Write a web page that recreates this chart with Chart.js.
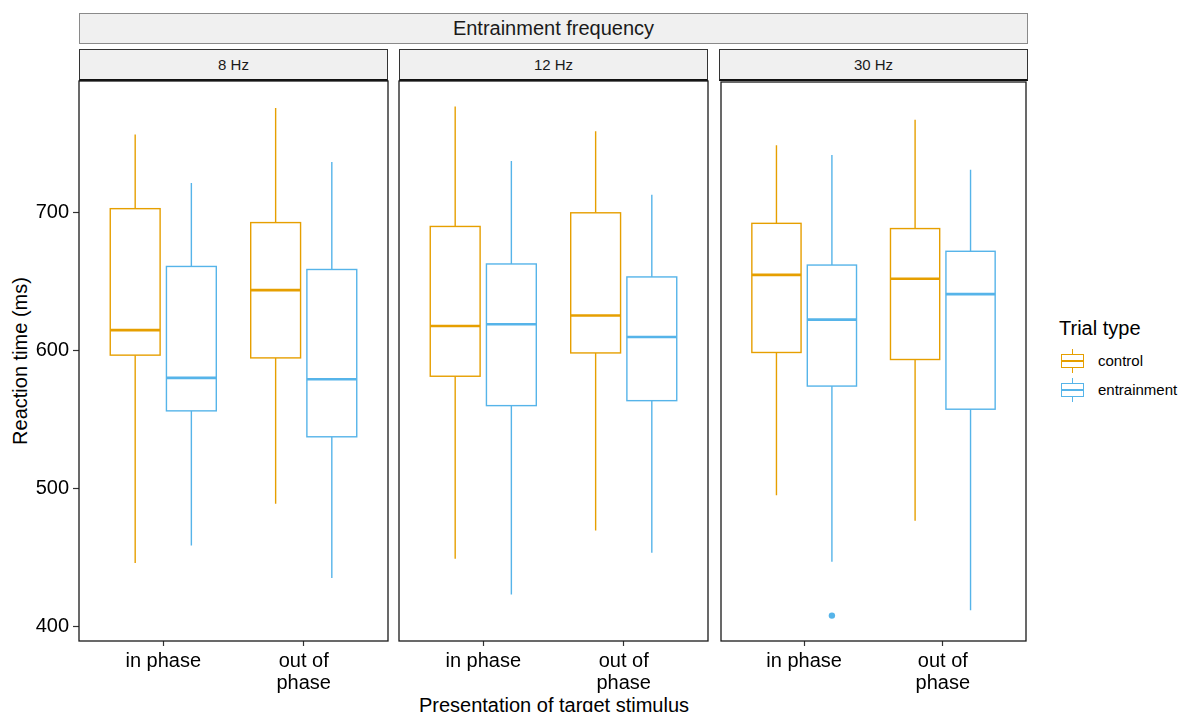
<!DOCTYPE html>
<html><head><meta charset="utf-8">
<script src="https://cdn.jsdelivr.net/npm/chart.js@4.4.1/dist/chart.umd.min.js"></script>
<style>
html,body{margin:0;padding:0;background:#fff;width:1182px;height:712px;overflow:hidden;font-family:"Liberation Sans",Arial,sans-serif;color:#111;}
.strip{position:absolute;background:#f0f0f0;box-sizing:border-box;text-align:center;color:#1a1a1a;white-space:nowrap;}
.cv{position:absolute;}
.txt{position:absolute;white-space:nowrap;}
</style></head><body>
<div id="root"></div>
<script>
// ---------- data ----------
const facets = ['8 Hz', '12 Hz', '30 Hz'];
const categories = [['in phase'], ['out of', 'phase']];
const series = ['control', 'entrainment'];
const yTicks = [400, 500, 600, 700];
// order: 8Hz in, 8Hz out, 12Hz in, 12Hz out, 30Hz in, 30Hz out
const controlLow    = [446.0, 489.0, 449.1, 469.6, 495.3, 476.7];
const controlQ1     = [596.7, 594.7, 581.4, 598.3, 599.0, 593.9];
const controlMedian = [614.8, 643.8, 617.8, 625.4, 655.4, 652.6];
const controlQ3     = [702.9, 692.8, 690.0, 699.9, 692.8, 689.0];
const controlHigh   = [756.6, 775.9, 777.0, 759.1, 749.5, 768.0];
const entrainLow    = [458.7, 435.1, 423.1, 453.4, 447.0, 411.7];
const entrainQ1     = [556.3, 537.5, 560.1, 563.7, 574.6, 557.8];
const entrainMedian = [580.2, 579.2, 619.1, 609.9, 622.9, 641.4];
const entrainQ3     = [661.0, 658.8, 662.8, 653.4, 662.5, 672.5];
const entrainHigh   = [721.5, 736.7, 737.5, 712.9, 742.4, 731.7];
const controlOutliers = [[], [], [], [], [], []];
const entrainOutliers = [[], [], [], [], [407.9], []];

// ---------- styling ----------
const colors = ['#E69F00', '#56B4E9'];
const stats = [
  {low: controlLow, q1: controlQ1, med: controlMedian, q3: controlQ3, high: controlHigh, out: controlOutliers},
  {low: entrainLow, q1: entrainQ1, med: entrainMedian, q3: entrainQ3, high: entrainHigh, out: entrainOutliers}
];
const DODGE = [-0.2, 0.2];
const BOXW = 0.355;
const FONT = '"Liberation Sans", Arial, sans-serif';

// y range: data range expanded by 5%
const allVals = [].concat(controlLow, controlHigh, entrainLow, entrainHigh, ...controlOutliers, ...entrainOutliers);
const dMin = Math.min(...allVals), dMax = Math.max(...allVals);
const yMin = dMin - 0.05 * (dMax - dMin), yMax = dMax + 0.05 * (dMax - dMin);

const panelLefts = [79, 399, 719];
const panelW = 309, panelTop = 81, panelH = 560;

const root = document.getElementById('root');
function el(cls, css, text) {
  const d = document.createElement('div');
  d.className = cls; Object.assign(d.style, css);
  if (text !== undefined) d.textContent = text;
  root.appendChild(d); return d;
}

// strips
el('strip', {left: '79px', top: '13px', width: '949px', height: '31px', border: '1px solid #8a8a8a', fontSize: '20px', lineHeight: '29px'}, 'Entrainment frequency');
facets.forEach((f, i) => {
  el('strip', {left: panelLefts[i] + 'px', top: '49px', width: panelW + 'px', height: '32px', border: '1px solid #333', borderBottom: '2px solid #111', fontSize: '15px', lineHeight: '30px'}, f);
});

// axis titles
el('txt', {left: '0px', width: '1108px', textAlign: 'center', top: '694px', fontSize: '20px', lineHeight: '22px', color: '#000'}, 'Presentation of target stimulus');
el('txt', {left: '20px', top: '361px', fontSize: '20px', lineHeight: '22px', color: '#000', transform: 'translate(-50%,-50%) rotate(-90deg)'}, 'Reaction time (ms)');

// legend
el('txt', {left: '1059px', top: '316px', fontSize: '20px', lineHeight: '24px', color: '#000'}, 'Trial type');
series.forEach((s, i) => {
  const cy = 361 + i * 29;
  const key = el('txt', {left: '1061px', top: (cy - 12) + 'px', width: '23px', height: '24px'});
  const wl = document.createElement('div');
  Object.assign(wl.style, {position: 'absolute', left: '10.75px', top: '0px', width: '1.5px', height: '24px', background: colors[i]});
  key.appendChild(wl);
  const bx = document.createElement('div');
  Object.assign(bx.style, {position: 'absolute', left: '0px', top: '5px', width: '23px', height: '14px', boxSizing: 'border-box', border: '1.5px solid ' + colors[i], background: '#fff'});
  key.appendChild(bx);
  const md = document.createElement('div');
  Object.assign(md.style, {position: 'absolute', left: '0px', top: '11px', width: '23px', height: '2px', background: colors[i]});
  key.appendChild(md);
  el('txt', {left: '1098px', top: (cy - 10) + 'px', fontSize: '15px', lineHeight: '20px', color: '#000'}, s);
});

// box plugin
const boxPlugin = {
  id: 'boxes',
  beforeDatasetsDraw(chart) {
    const fi = chart.options.plugins.boxes.facet;
    const xs = chart.scales.x, ys = chart.scales.y, ctx = chart.ctx;
    const hw = Math.abs(xs.getPixelForValue(BOXW / 2) - xs.getPixelForValue(0));
    ctx.save();
    stats.forEach((st, gi) => {
      categories.forEach((c, ci) => {
        const k = fi * 2 + ci;
        const xc = xs.getPixelForValue(ci + 1 + DODGE[gi]);
        const pLow = ys.getPixelForValue(st.low[k]);
        const pQ1 = ys.getPixelForValue(st.q1[k]);
        const pMed = ys.getPixelForValue(st.med[k]);
        const pQ3 = ys.getPixelForValue(st.q3[k]);
        const pHigh = ys.getPixelForValue(st.high[k]);
        ctx.strokeStyle = colors[gi];
        ctx.lineWidth = 1.4;
        ctx.beginPath();
        ctx.moveTo(xc, pHigh); ctx.lineTo(xc, pQ3);
        ctx.moveTo(xc, pQ1); ctx.lineTo(xc, pLow);
        ctx.stroke();
        ctx.fillStyle = '#fff';
        ctx.fillRect(xc - hw, pQ3, 2 * hw, pQ1 - pQ3);
        ctx.strokeRect(xc - hw, pQ3, 2 * hw, pQ1 - pQ3);
        ctx.lineWidth = 2.6;
        ctx.beginPath();
        ctx.moveTo(xc - hw, pMed); ctx.lineTo(xc + hw, pMed);
        ctx.stroke();
      });
    });
    ctx.restore();
  },
  afterDraw(chart) {
    const a = chart.chartArea, ctx = chart.ctx;
    ctx.save();
    ctx.strokeStyle = '#1a1a1a';
    ctx.lineWidth = 1.3;
    ctx.strokeRect(a.left, a.top, a.right - a.left, a.bottom - a.top);
    ctx.restore();
  }
};

facets.forEach((f, fi) => {
  const first = fi === 0;
  const padL = first ? 0 : 2, padR = 2, padT = 3, xAxisH = 70, yAxisW = 79;
  const left = first ? 0 : panelLefts[fi] - padL;
  const width = (first ? yAxisW : padL) + panelW + padR;
  const height = padT + panelH + xAxisH;
  const cv = document.createElement('canvas');
  cv.className = 'cv';
  cv.width = width; cv.height = height;
  cv.style.left = left + 'px'; cv.style.top = (panelTop - padT) + 'px';
  cv.style.width = width + 'px'; cv.style.height = height + 'px';
  root.appendChild(cv);

  const outPts = [];
  stats.forEach((st, gi) => {
    categories.forEach((c, ci) => {
      st.out[fi * 2 + ci].forEach(v => outPts.push({x: ci + 1 + DODGE[gi], y: v, c: colors[gi]}));
    });
  });

  new Chart(cv, {
    type: 'scatter',
    data: {datasets: [{
      data: outPts,
      pointRadius: 3.2,
      pointBackgroundColor: outPts.map(p => p.c),
      pointBorderColor: outPts.map(p => p.c),
      pointBorderWidth: 0
    }]},
    options: {
      responsive: false, animation: false, devicePixelRatio: 1,
      layout: {padding: {left: padL, right: padR, top: padT, bottom: 0}},
      plugins: {legend: {display: false}, tooltip: {enabled: false}, boxes: {facet: fi}},
      scales: {
        x: {
          type: 'linear', min: 0.4, max: 2.6,
          afterBuildTicks: s => { s.ticks = categories.map((c, i) => ({value: i + 1})); },
          afterFit: s => { s.height = xAxisH; s.paddingLeft = 0; s.paddingRight = 0; },
          grid: {drawOnChartArea: false, drawTicks: true, tickLength: 5, tickColor: '#333', tickWidth: 1.2},
          border: {display: false},
          ticks: {
            autoSkip: false, maxRotation: 0, padding: 4, color: '#000',
            font: {family: FONT, size: 20, lineHeight: 1.1},
            callback: v => categories[Math.round(v) - 1]
          }
        },
        y: {
          type: 'linear', min: yMin, max: yMax, display: first,
          afterBuildTicks: s => { s.ticks = yTicks.map(v => ({value: v})); },
          afterFit: s => { if (first) { s.width = yAxisW; } s.paddingTop = 0; s.paddingBottom = 0; },
          grid: {drawOnChartArea: false, drawTicks: true, tickLength: 6, tickColor: '#333', tickWidth: 1.2},
          border: {display: false},
          ticks: {padding: 4, color: '#000', font: {family: FONT, size: 20}, callback: v => String(v)}
        }
      }
    },
    plugins: [boxPlugin]
  });
});
</script>
</body></html>
